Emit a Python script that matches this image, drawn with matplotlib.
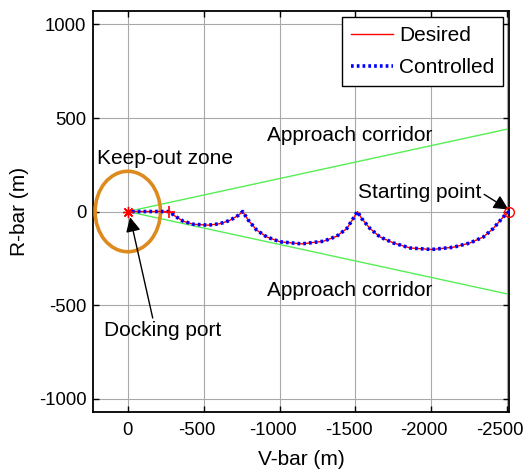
import matplotlib
matplotlib.use("Agg")
import matplotlib.pyplot as plt
import matplotlib.transforms as mtransforms
from matplotlib.patches import Ellipse

plt.rcParams['font.family'] = ['Liberation Sans', 'DejaVu Sans']

# Desired hopping trajectory along V-bar (m) / R-bar (m)
desired_v = [-2514, -2474, -2408, -2343, -2255, -2145, -2003, -1860, -1750, -1662,
             -1596, -1541, -1513, -1486, -1443, -1377, -1289, -1146, -1003, -916,
             -850, -795, -757, -729, -674, -608, -531, -432, -366, -312, -274, 0]
desired_r = [0, -29, -91, -136, -168, -191, -203, -195, -168, -136,
             -91, -37, 0, -37, -91, -132, -159, -173, -162, -136,
             -100, -47, 0, -20, -47, -65, -73, -68, -52, -25, 0, 0]

# Controlled trajectory (tracks the desired one)
controlled_v = list(desired_v)
controlled_r = list(desired_r)

# Approach corridor boundaries (10 deg half-cone from docking port)
corridor_v = [0, -2514]
corridor_upper = [0, 443]
corridor_lower = [0, -443]

keepout_radius = 215
start_point = (-2514, 0)
hold_point = (-274, 0)
dock_point = (0, 0)

x_ticks = [0, -500, -1000, -1500, -2000, -2500]
y_ticks = [-1000, -500, 0, 500, 1000]

fig = plt.figure(figsize=(5.29, 4.75), dpi=100)
ax = fig.add_axes([0.1764, 0.1326, 0.7864, 0.8442])

ax.plot(corridor_v, corridor_upper, color='#55ee55', lw=1.0, zorder=2)
ax.plot(corridor_v, corridor_lower, color='#55ee55', lw=1.0, zorder=2)

ax.add_patch(Ellipse(dock_point, 2 * keepout_radius, 2 * keepout_radius,
                     fill=False, edgecolor='#dd8a1e', lw=2.6, zorder=3))

ax.plot(desired_v, desired_r, color='red', lw=1.0, zorder=4, label='Desired')
ax.plot(controlled_v, controlled_r, color='blue', lw=2.6,
        linestyle=(0, (0.75, 0.85)), zorder=5, label='Controlled')

ax.plot(*start_point, marker='o', mfc='none', mec='red', ms=7, mew=1.0,
        clip_on=False, zorder=6)
ax.plot(*hold_point, marker='+', color='red', ms=8, mew=1.2, zorder=6)
ax.plot(*dock_point, marker=(8, 2, 0), color='red', ms=8, mew=1.0, zorder=6)

ax.set_xlim(227, -2514)
ax.set_ylim(-1072, 1072)
ax.set_xticks(x_ticks)
ax.set_xticklabels([f'{t:d}' for t in x_ticks])
ax.set_yticks(y_ticks)
ax.set_yticklabels([f'{t:d}' for t in y_ticks])
ax.grid(True, color='#a8a8a8', lw=0.8)
ax.set_axisbelow(True)

ax.tick_params(direction='in', length=4, width=1, top=True, right=True,
               labelsize=13.3)
ax.tick_params(axis='x', pad=7)
ax.tick_params(axis='y', pad=5)
for s in ax.spines.values():
    s.set_linewidth(1.3)

# Negative tick labels sit slightly left of their ticks
shift = mtransforms.ScaledTranslation(-5 / 72, 0, fig.dpi_scale_trans)
for lbl, t in zip(ax.get_xticklabels(), x_ticks):
    if t < 0:
        lbl.set_transform(lbl.get_transform() + shift)

ax.set_xlabel('V-bar (m)', fontsize=15, labelpad=8)
ax.set_ylabel('R-bar (m)', fontsize=15, labelpad=7)

ax.text(202, 285, 'Keep-out zone', fontsize=15, ha='left', va='center')
ax.text(-918, 408, 'Approach corridor', fontsize=15, ha='left', va='center')
ax.text(-918, -421, 'Approach corridor', fontsize=15, ha='left', va='center')

ax.annotate('Docking port', xy=(-15, -30), xytext=(156, -635), fontsize=15,
            ha='left', va='center',
            arrowprops=dict(arrowstyle='-|>', color='k', lw=1.0,
                            mutation_scale=22, shrinkA=0, shrinkB=0,
                            relpos=(0.42, 1.0)))
ax.annotate('Starting point', xy=(-2508, 11), xytext=(-1517, 103), fontsize=15,
            ha='left', va='center', annotation_clip=False,
            arrowprops=dict(arrowstyle='-|>', color='k', lw=1.0,
                            mutation_scale=22, shrinkA=0, shrinkB=0,
                            relpos=(0.97, 0.6)))

leg = ax.legend(loc='upper right', fontsize=15, handlelength=2.0,
                handletextpad=0.3, borderaxespad=0.3, labelspacing=0.62,
                borderpad=0.42, fancybox=False, framealpha=1,
                edgecolor='black')
leg.get_frame().set_linewidth(1.0)

fig.savefig('out.png', dpi=100)
